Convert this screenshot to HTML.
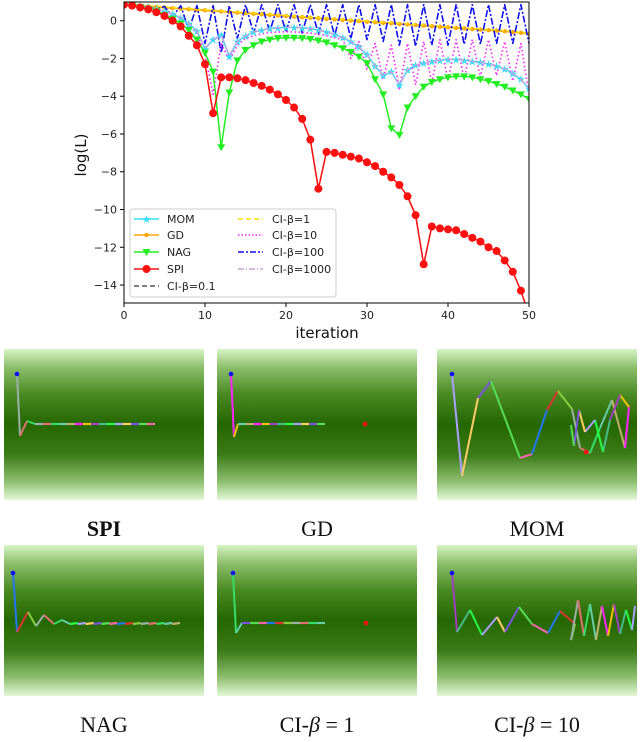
<!DOCTYPE html>
<html><head><meta charset="utf-8"><style>
html,body{margin:0;padding:0;background:#fff;}
svg{display:block;}
text{font-family:"DejaVu Sans","Liberation Sans",sans-serif;}
.cap{font-family:"Liberation Serif",serif;font-size:22px;fill:#111;}
</style></head><body>
<svg id="root" width="640" height="742" viewBox="0 0 640 742" xmlns="http://www.w3.org/2000/svg">
<defs>
<clipPath id="plotclip"><rect x="124" y="2" width="405" height="301"/></clipPath>
<linearGradient id="bg" x1="0" y1="0" x2="0" y2="1">
<stop offset="0" stop-color="#d8f4c6"/>
<stop offset="0.12" stop-color="#8dbf6c"/>
<stop offset="0.3" stop-color="#4a8a22"/>
<stop offset="0.5" stop-color="#246600"/>
<stop offset="0.7" stop-color="#3c7c18"/>
<stop offset="0.88" stop-color="#8fc071"/>
<stop offset="1" stop-color="#e4f8d8"/>
</linearGradient>
</defs>
<g id="chart"></g>
<g id="panels"></g>
</svg>
<script>
const iterations=[0,1,2,3,4,5,6,7,8,9,10,11,12,13,14,15,16,17,18,19,20,21,22,23,24,25,26,27,28,29,30,31,32,33,34,35,36,37,38,39,40,41,42,43,44,45,46,47,48,49,50];
const spiValues=[0.85,0.8,0.7,0.6,0.45,0.25,0.0,-0.3,-0.8,-1.3,-2.3,-4.9,-3.0,-3.0,-3.05,-3.15,-3.3,-3.45,-3.65,-3.9,-4.2,-4.6,-5.2,-6.3,-8.9,-6.95,-7.0,-7.1,-7.2,-7.3,-7.5,-7.7,-8.0,-8.3,-8.7,-9.3,-10.3,-12.9,-10.9,-11.0,-11.05,-11.1,-11.3,-11.5,-11.7,-12.0,-12.2,-12.7,-13.3,-14.3,-15.6];
const nagValues=[0.85,0.8,0.72,0.62,0.5,0.3,0.1,-0.15,-0.5,-1.0,-1.7,-2.7,-6.7,-3.8,-2.1,-1.55,-1.3,-1.1,-1.0,-0.92,-0.9,-0.9,-0.92,-0.97,-1.05,-1.15,-1.3,-1.45,-1.65,-1.9,-2.25,-3.1,-3.9,-5.7,-6.05,-4.6,-4.0,-3.5,-3.25,-3.1,-3.0,-2.95,-2.95,-3.0,-3.1,-3.2,-3.35,-3.5,-3.7,-3.9,-4.15];
const momValues=[0.85,0.82,0.78,0.72,0.62,0.5,0.35,0.15,-0.15,-0.55,-1.5,-1.0,-0.75,-1.9,-1.1,-0.8,-0.6,-0.5,-0.42,-0.38,-0.35,-0.35,-0.38,-0.42,-0.5,-0.6,-0.72,-0.9,-1.1,-1.4,-1.8,-2.4,-2.9,-2.7,-3.4,-2.6,-2.35,-2.25,-2.15,-2.1,-2.05,-2.05,-2.1,-2.15,-2.2,-2.3,-2.4,-2.55,-2.8,-3.1,-3.6];
const gdValues=[0.85,0.82,0.79,0.76,0.73,0.70,0.67,0.64,0.61,0.58,0.55,0.52,0.49,0.46,0.43,0.40,0.37,0.34,0.31,0.28,0.25,0.22,0.19,0.16,0.13,0.10,0.07,0.04,0.01,-0.02,-0.05,-0.08,-0.11,-0.14,-0.17,-0.20,-0.23,-0.26,-0.29,-0.32,-0.35,-0.38,-0.41,-0.44,-0.47,-0.50,-0.53,-0.56,-0.60,-0.64,-0.70];
const ci01Values=[0.85,0.8,0.7,0.6,0.45,0.25,0.0,-0.3,-0.8,-1.3,-2.3,-4.9,-3.0,-3.0,-3.05,-3.15,-3.3,-3.45,-3.65,-3.9,-4.2,-4.6,-5.2,-6.3,-8.9,-6.95,-7.0,-7.1,-7.2,-7.3,-7.5,-7.7,-8.0,-8.3,-8.7,-9.3,-10.3,-12.9,-10.9,-11.0,-11.05,-11.1,-11.3,-11.5,-11.7,-12.0,-12.2,-12.7,-13.3,-14.3,-15.6];
const ci1Values=[0.88,0.85,0.82,0.79,0.76,0.73,0.70,0.67,0.64,0.61,0.58,0.55,0.52,0.49,0.46,0.43,0.40,0.37,0.34,0.31,0.28,0.25,0.22,0.19,0.16,0.13,0.10,0.07,0.04,0.01,-0.02,-0.05,-0.08,-0.11,-0.14,-0.17,-0.20,-0.23,-0.26,-0.29,-0.32,-0.35,-0.38,-0.41,-0.44,-0.47,-0.50,-0.53,-0.57,-0.61,-0.66];
const ci10Values=[0.85,0.82,0.78,0.72,0.62,0.5,0.35,0.15,-0.2,-0.7,-1.8,-3.9,-1.2,-2.1,-1.3,-0.95,-0.8,-0.7,-0.62,-0.6,-0.58,-0.6,-0.62,-0.66,-0.72,-0.8,-0.9,-1.0,-2.0,-1.1,-2.6,-1.2,-3.1,-1.3,-3.6,-1.2,-3.4,-1.1,-3.3,-1.0,-3.2,-1.0,-3.1,-1.0,-3.0,-1.0,-2.9,-1.1,-3.2,-1.2,-3.9];
const ci100Values=[0.85,0.85,0.8,0.75,0.6,0.75,0.2,0.8,-0.5,0.8,-1.2,0.8,-1.7,0.8,-0.95,0.85,-0.67,0.85,-0.58,0.85,-0.6,0.85,-0.65,0.85,-0.7,0.85,-0.8,0.85,-0.95,0.85,-1.0,0.85,-1.1,0.85,-1.3,0.85,-1.35,0.85,-1.3,0.85,-1.3,0.85,-1.25,0.85,-1.25,0.85,-1.2,0.85,-1.2,0.85,-1.2];
const ci1000Values=[0.85,0.82,0.78,0.72,0.62,0.5,0.35,0.15,-0.15,-0.55,-1.45,-1.0,-0.75,-1.85,-1.1,-0.8,-0.6,-0.5,-0.42,-0.38,-0.35,-0.35,-0.38,-0.42,-0.5,-0.6,-0.72,-0.9,-1.1,-1.4,-1.8,-2.4,-2.9,-2.7,-3.4,-2.6,-2.35,-2.25,-2.15,-2.1,-2.05,-2.05,-2.1,-2.15,-2.2,-2.3,-2.4,-2.55,-2.8,-3.1,-3.6];
const yTickLabels=[0,-2,-4,-6,-8,-10,-12,-14];
const xTickLabels=[0,10,20,30,40,50];

const NS="http://www.w3.org/2000/svg";
function mk(tag,attrs,parent){const e=document.createElementNS(NS,tag);for(const k in attrs)e.setAttribute(k,attrs[k]);parent.appendChild(e);return e;}
const X=i=>124+(i-0)*(405/50);
const Y=v=>20.7-18.88*v;
const chart=document.getElementById('chart');

yTickLabels.forEach(v=>{
  const t=mk('line',{x1:120,x2:124,y1:Y(v),y2:Y(v),stroke:'#000','stroke-width':1},chart);
  
  
  const l=mk('text',{x:117,y:Y(v)+4,'text-anchor':'end','font-size':11,fill:'#222'},chart);
  l.textContent=(v<0?'\u2212'+(-v):''+v);
  
  
});
xTickLabels.forEach(v=>{
  const t=mk('line',{x1:X(v),x2:X(v),y1:303,y2:307,stroke:'#000','stroke-width':1},chart);
  
  
  const l=mk('text',{x:X(v),y:319,'text-anchor':'middle','font-size':11,fill:'#222'},chart);
  l.textContent=v;
  
  
});
const xt=mk('text',{x:327,y:338,'text-anchor':'middle','font-size':15,fill:'#111'},chart);
xt.textContent='iteration';


const yt=mk('text',{x:0,y:0,'text-anchor':'middle','font-size':15,fill:'#111',transform:'translate(86,155) rotate(-90)'},chart);
yt.textContent='log(L)';



const plot=mk('g',{'clip-path':'url(#plotclip)'},chart);


function pts(vals){return vals.map((v,i)=>X(iterations[i]).toFixed(1)+','+Y(v).toFixed(1)).join(' ');}
function series(vals,name,color,width,dash){
  const p=mk('polyline',{points:pts(vals),fill:'none',stroke:color,'stroke-width':width,'stroke-dasharray':dash||'none','stroke-linejoin':'round'},plot);
  
  
  return p;
}
series(ci01Values,'ci-beta-0.1-line','#444',1.3,'5,3');
series(gdValues,'gd-line','#ffa500',1.8);
gdValues.forEach((v,i)=>{const c=mk('circle',{cx:X(iterations[i]),cy:Y(v),r:2.2,fill:'#ffa500'},plot);
  
  });
series(ci1Values,'ci-beta-1-line','#f5e400',1.5,'5,3');
series(ci100Values,'ci-beta-100-line','#1010e8',1.6,'7,2,2,2');
series(ci10Values,'ci-beta-10-line','#ff22ff',1.6,'1.5,2.5');
series(momValues,'mom-line','#33ddf5',1.5);
momValues.forEach((v,i)=>{const s=mk('text',{x:X(iterations[i]),y:Y(v)+4,'text-anchor':'middle','font-size':11,fill:'#33ddf5'},plot);
  s.textContent='\u2605';
  
  });
series(ci1000Values,'ci-beta-1000-line','#c9a0dc',1.5,'6,2,1,2');
series(nagValues,'nag-line','#22ee22',1.5);
nagValues.forEach((v,i)=>{const x=X(iterations[i]),y=Y(v);
  const t=mk('polygon',{points:`${x-4},${y-3} ${x+4},${y-3} ${x},${y+4}`,fill:'#22ee22'},plot);
  
  });
series(spiValues,'spi-line','#ff1010',1.5);
spiValues.forEach((v,i)=>{const c=mk('circle',{cx:X(iterations[i]),cy:Y(v),r:4,fill:'#ff1010'},plot);
  
  });

const frame=mk('rect',{x:124,y:2,width:405,height:301,fill:'none',stroke:'#000','stroke-width':1},chart);



const leg=mk('g',{},chart);


mk('rect',{x:130,y:209,width:206,height:88,rx:3,fill:'#fff','fill-opacity':0.85,stroke:'#ccc'},leg);
const legItems=[
 [134,219,'MOM','#33ddf5','none','star'],[134,235,'GD','#ffa500','none','dot'],[134,252,'NAG','#22ee22','none','tri'],[134,269,'SPI','#ff1010','none','circ'],[134,286,'CI-\u03b2=0.1','#555','5,3',''],
 [238,219,'CI-\u03b2=1','#f5e400','5,3',''],[238,235,'CI-\u03b2=10','#ff22ff','1.5,2',''],[238,252,'CI-\u03b2=100','#1010e8','6,2,2,2',''],[238,269,'CI-\u03b2=1000','#c9a0dc','6,2,1,2','']];
legItems.forEach(it=>{
  const [x,y,label,col,dash,mark]=it;
  const g=mk('g',{},leg);
  
  
  mk('line',{x1:x,x2:x+25,y1:y,y2:y,stroke:col,'stroke-width':1.6,'stroke-dasharray':dash},g);
  const cx=x+12.5;
  if(mark==='circ')mk('circle',{cx:cx,cy:y,r:4,fill:col},g);
  if(mark==='dot')mk('circle',{cx:cx,cy:y,r:2.2,fill:col},g);
  if(mark==='tri')mk('polygon',{points:`${cx-4},${y-3} ${cx+4},${y-3} ${cx},${y+4}`,fill:col},g);
  if(mark==='star'){const s=mk('text',{x:cx,y:y+4,'text-anchor':'middle','font-size':11,fill:col},g);s.textContent='\u2605';}
  const t=mk('text',{x:x+(x<200?33:34),y:y+4,'font-size':11,fill:'#222'},g);
  t.textContent=label;
});

const panels=document.getElementById('panels');
const panelDefs=[
 {x:4,y:349,name:'spi-panel',cap:'SPI',bold:true,red:null,
  path:[[17,374],[20,436],[27,421],[35,424],[155,424]],flat:true},
 {x:217,y:349,name:'gd-panel',cap:'GD',red:[365,424],
  path:[[231,374],[234,437],[238,424],[325,424]],flat:true},
 {x:437,y:349,name:'mom-panel',cap:'MOM',red:[586,452],
  path:[[452,374],[462,476],[478,398],[491,381],[520,458],[532,454],[547,410],[558,391],[572,409],[580,448],[590,453],[600,428],[612,400],[625,448],[629,407],[620,395],[610,420],[603,452],[595,420],[585,432],[579,410],[574,446],[571,425]]},
 {x:4,y:545,name:'nag-panel',cap:'NAG',red:null,
  path:[[13,573],[17,632],[28,612],[36,626],[44,615],[54,624],[62,620],[70,624],[180,623]],flat:true},
 {x:217,y:545,name:'ci-beta-1-panel',cap:'CI-\u03b2 = 1',red:[366,623],
  path:[[233,573],[236,633],[242,623],[325,623]],flat:true},
 {x:437,y:545,name:'ci-beta-10-panel',cap:'CI-\u03b2 = 10',red:null,
  path:[[452,573],[457,632],[470,610],[482,635],[497,617],[505,632],[519,607],[532,624],[548,633],[560,611],[575,624],[571,640],[578,600],[584,636],[590,604],[596,640],[602,606],[608,636],[614,604],[620,634],[626,610],[632,630],[635,606]]}
];
const segCols=['#9ab0a8','#e07070','#33dd66','#66ccaa','#c0b070','#ff22ff','#f0c000','#a040c0','#44bb88','#22ff44','#aaa0ff','#ffcc66','#7755dd','#55dd55','#ff66aa','#2277ee','#dd3333','#88cc44'];
panelDefs.forEach((p,pi)=>{
  const g=mk('g',{},panels);
  
  
  mk('rect',{x:p.x,y:p.y,width:200,height:151,fill:'url(#bg)'},g);
  const pts=p.path;
  for(let k=0;k<pts.length-1;k++){
    const a=pts[k],b=pts[k+1];
    if(p.flat && k===pts.length-2){
      const n=Math.max(1,Math.round((b[0]-a[0])/8));
      for(let j=0;j<n;j++){
        mk('line',{x1:a[0]+(b[0]-a[0])*j/n,x2:a[0]+(b[0]-a[0])*(j+1)/n,y1:a[1],y2:b[1],stroke:segCols[(j+pi*3)%segCols.length],'stroke-width':2.2},g);
      }
    } else {
      mk('line',{x1:a[0],x2:b[0],y1:a[1],y2:b[1],stroke:segCols[(k+pi*5)%segCols.length],'stroke-width':2},g);
    }
  }
  mk('circle',{cx:pts[0][0],cy:pts[0][1],r:2.3,fill:'#1010ff'},g);
  if(p.red)mk('circle',{cx:p.red[0],cy:p.red[1],r:2.3,fill:'#ff1010'},g);
  const cap=mk('text',{x:p.x+100,y:p.y+187,'text-anchor':'middle'},panels);
  cap.setAttribute('class','cap');
  
  
  if(p.bold)cap.setAttribute('font-weight','bold');
  if(p.cap.indexOf('\u03b2')>=0){
    const parts=p.cap.split('\u03b2');
    const s1=document.createElementNS(NS,'tspan');s1.textContent=parts[0];cap.appendChild(s1);
    const s2=document.createElementNS(NS,'tspan');s2.setAttribute('font-style','italic');s2.textContent='\u03b2';cap.appendChild(s2);
    const s3=document.createElementNS(NS,'tspan');s3.textContent=parts[1];cap.appendChild(s3);
  } else cap.textContent=p.cap;
});
</script>
</body></html>
